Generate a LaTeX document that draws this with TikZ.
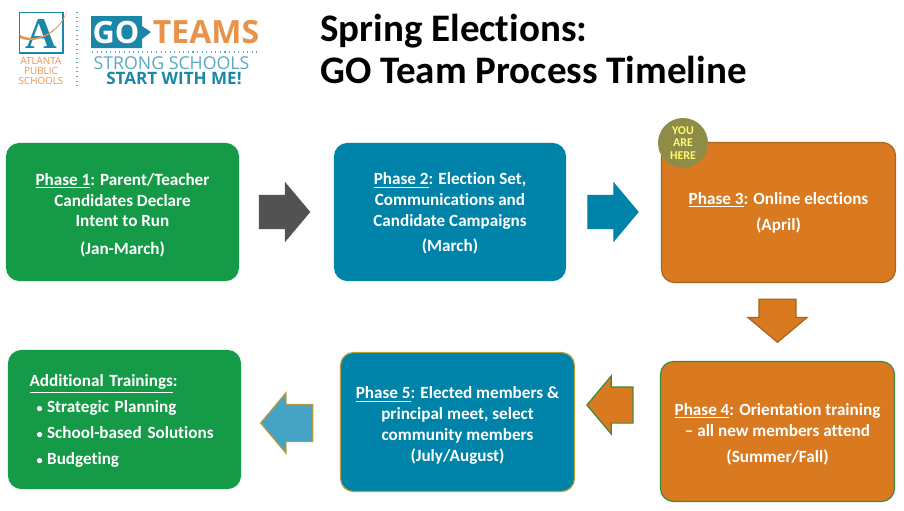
\documentclass[tikz,border=0pt]{standalone}
\usepackage{fontspec}
\setmainfont{Carlito}[Ligatures=NoCommon]
\newfontfamily\logofont{Open Sans}
\newfontfamily\crestfont{Liberation Serif}
\usetikzlibrary{shapes.arrows}
\definecolor{goGreen}{HTML}{159A48}
\definecolor{goTeal}{HTML}{0083A9}
\definecolor{goOrange}{HTML}{D97A20}
\definecolor{goOlive}{HTML}{8F8C47}
\definecolor{goSky}{HTML}{46A3C4}
\definecolor{goGold}{HTML}{B79A3C}
\definecolor{goBrown}{HTML}{A9651E}
\definecolor{goLeaf}{HTML}{3E8A3C}
\definecolor{logoOrange}{HTML}{E8924A}
\definecolor{logoBlue}{HTML}{1B87A8}
\definecolor{logoPale}{HTML}{58A9C4}
\tikzset{
  phasebox/.style={rounded corners=0.26cm, align=center, text=white, line width=0.7pt,
    inner sep=0pt, minimum width=#1, font=\fontsize{9.75}{11.9}\selectfont\bfseries},
  blockarrow/.style={single arrow, inner sep=0pt, line width=0.7pt, single arrow tip angle=100,
    single arrow head indent=0pt},
}
\newcommand{\shaft}[1]{\rule{0pt}{#1}}
\newcommand{\itembullet}{\hspace*{0.14cm}{\fontsize{7}{7}\selectfont•}\hspace{0.09cm}}
\begin{document}
\begin{tikzpicture}[x=0.02cm, y=-0.02cm]
\useasboundingbox (0,0) rectangle (904,511);
% logo
\draw[logoBlue, line width=0.8pt] (19.5,12.5) rectangle (63,53);
\node(crest) at (41,34) {\crestfont\fontsize{25}{25}\selectfont\bfseries\textcolor{logoBlue}{A}};
\fill[logoOrange] (20,35) .. controls (35,43) and (58,34) .. (67,11) .. controls (62,30) and (38,46) .. (20,38) -- cycle;
\node(aps) at (41,71) {\parbox{1.6cm}{\centering\logofont\fontsize{5.6}{5.7}\selectfont\textcolor{logoOrange}{ATLANTA\\PUBLIC\\SCHOOLS}}};
\draw[logoPale, dotted, line width=0.6pt] (77,12) -- (77,86);
\fill[logoBlue] (91,16) -- (142,16) -- (142,26) -- (151,32) -- (142,39) -- (142,48) -- (91,48) -- cycle;
\node(go) at (116,32) {\logofont\fontsize{17.5}{18}\selectfont\bfseries\textcolor{white}{GO}};
\node(teams) at (206,32) {\logofont\fontsize{18.2}{19}\selectfont\bfseries\textcolor{logoOrange}{TEAMS}};
\draw[logoPale, dotted, line width=0.6pt] (92,52) -- (257,52);
\node(strong) at (171.5,63) {\logofont\fontsize{10.1}{11}\selectfont\textcolor{logoPale}{STRONG SCHOOLS}};
\node(start) at (174,78) {\logofont\fontsize{9.7}{11}\selectfont\bfseries\textcolor{logoBlue}{START WITH ME!}};
% title
\node[anchor=north west, inner sep=0pt, align=left, font=\fontsize{22.2}{24}\selectfont\bfseries] (title) at (320,13.5) {Spring Elections:\\GO Team Process Timeline};
% top row
\node[phasebox=4.64cm, minimum height=2.74cm, fill=goGreen, draw=goGreen] (phaseone) at (122.5,212) {\shaft{10.6pt}\underline{Phase 1}: Parent/Teacher\\Candidates Declare\\Intent to Run\\[4pt](Jan-March)};
\node[phasebox=4.62cm, minimum height=2.74cm, fill=goTeal, draw=goTeal] (phasetwo) at (450,212) {\shaft{8.4pt}\underline{Phase 2}: Election Set,\\Communications and\\Candidate Campaigns\\[2pt](March)};
\node[phasebox=4.68cm, minimum height=2.8cm, fill=goOrange, draw=goBrown] (phasethree) at (778.5,212.5) {\underline{Phase 3}: Online elections\\[3pt](April)};
\node[circle, fill=goOlive, minimum size=1cm, inner sep=0pt, align=center, text=yellow!55!white, font=\fontsize{6.8}{6.9}\selectfont\bfseries] (here) at (683,143) {YOU\\ARE\\HERE};
% bottom row
\node[phasebox=4.68cm, minimum height=2.8cm, fill=goOrange, draw=goLeaf] (phasefour) at (777.5,431.5) {\shaft{9.6pt}\underline{Phase 4}: Orientation training\\-- all new members attend\\[3pt](Summer/Fall)};
\node[phasebox=4.68cm, minimum height=2.78cm, fill=goTeal, draw=goGold] (phasefive) at (457.5,422) {\shaft{10.6pt}\underline{Phase 5}: Elected members \&\\principal meet, select\\community members\\(July/August)};
\node[phasebox=4.64cm, minimum height=2.76cm, fill=goGreen, draw=goGreen, text width=3.8cm, inner xsep=0.42cm, align=left, font=\fontsize{9.75}{14.7}\selectfont\bfseries] (extra) at (124.5,419.5) {\shaft{8.4pt}\underline{Additional Trainings}:\\\itembullet Strategic Planning\\\itembullet School-based Solutions\\\itembullet Budgeting};
% arrows
\node[blockarrow, minimum width=1.12cm, minimum height=1cm, single arrow head extend=0.24cm, fill=black!68, draw=black!68] (gray) at (277.5,212) {\shaft{0.64cm}};
\node[blockarrow, minimum width=1.12cm, minimum height=1cm, single arrow head extend=0.24cm, fill=goTeal, draw=goTeal] (teal) at (606,212) {\shaft{0.64cm}};
\node[blockarrow, rotate=270, minimum width=1.16cm, minimum height=0.86cm, single arrow head extend=0.22cm, fill=goOrange, draw=goBrown] (down) at (777.5,313) {\shaft{0.72cm}};
\node[blockarrow, rotate=180, minimum width=1.14cm, minimum height=0.92cm, single arrow head extend=0.22cm, fill=goOrange, draw=goLeaf] (orange) at (617.5,405) {\shaft{0.7cm}};
\node[blockarrow, rotate=180, minimum width=1.18cm, minimum height=1.04cm, single arrow head extend=0.23cm, fill=goSky, draw=goGold] (sky) at (294.5,423) {\shaft{0.72cm}};
\end{tikzpicture}
\end{document}
